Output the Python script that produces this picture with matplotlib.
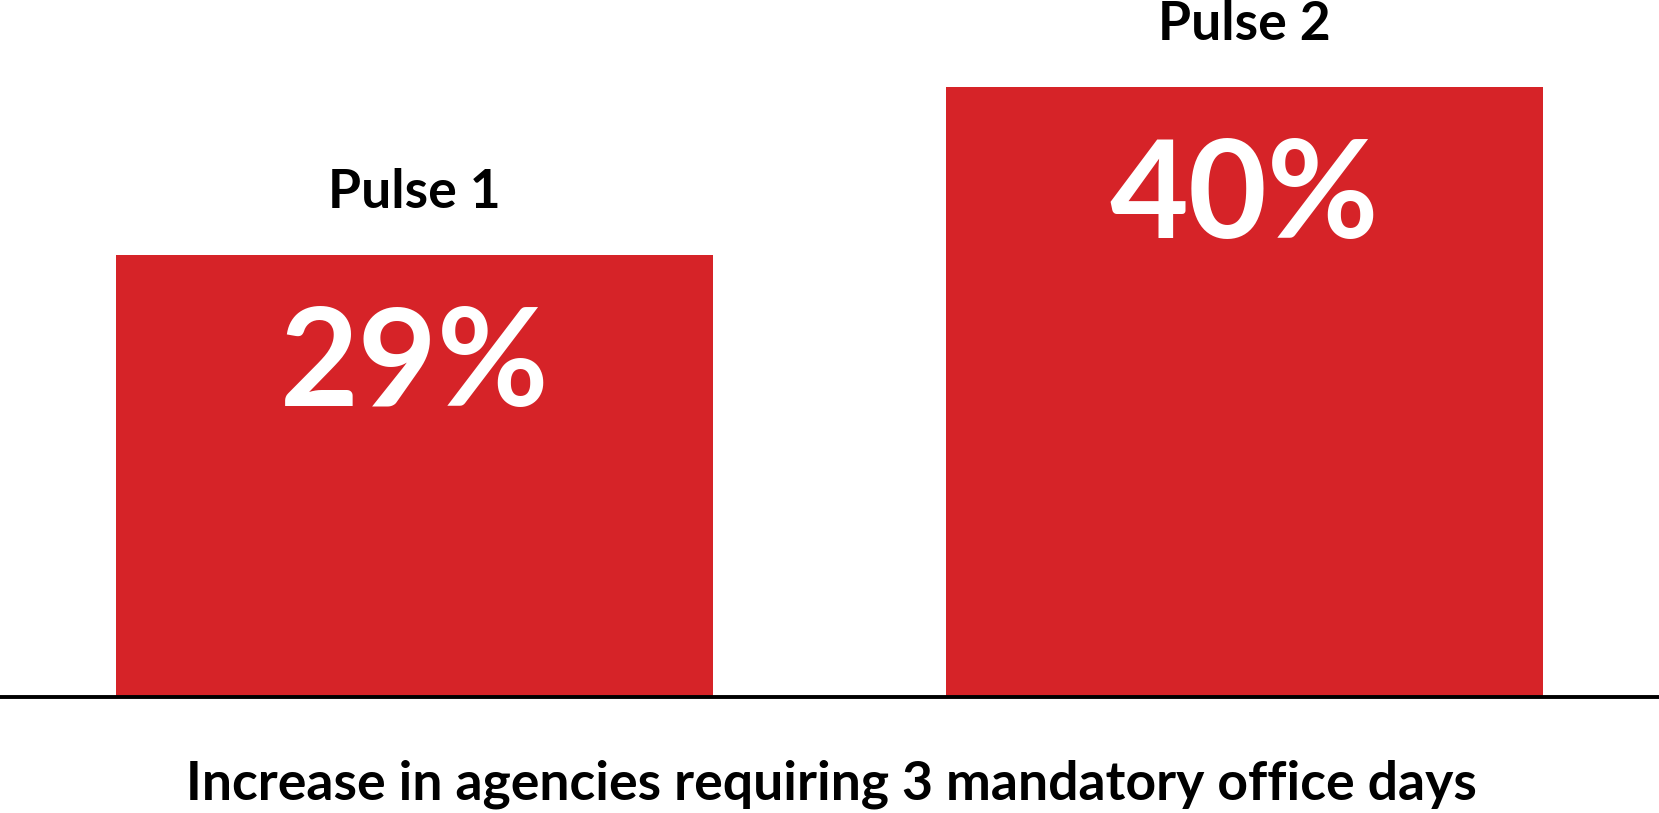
import matplotlib.pyplot as plt

# chart data
labels = ["Pulse 1", "Pulse 2"]
values = [29, 40]
value_text = ["29%", "40%"]
caption = "Increase in agencies requiring 3 mandatory office days"

bar_color = "#D62328"
font = ["Lato", "DejaVu Sans"]

fig = plt.figure(figsize=(16.59, 8.13), dpi=100)
# axes fills the width, baseline sits 116px up from the bottom
ax = fig.add_axes([0, 116 / 813, 1, 697 / 813])

x = list(range(len(values)))
bars = ax.bar(x, values, width=0.72, color=bar_color, zorder=2)

ax.set_xlim(-0.5, 1.5)
ax.set_ylim(0, 697 / 15.25)
ax.axhline(0, color="black", lw=2.8, zorder=3, clip_on=False)

for spine in ax.spines.values():
    spine.set_visible(False)
ax.set_xticks([])
ax.set_yticks([])

# labels above and values inside each bar
for xi, v, lab, txt in zip(x, values, labels, value_text):
    ax.annotate(lab, (xi, v), xytext=(0, 33.5), textcoords="offset points",
                ha="center", va="baseline", fontsize=38.5, fontweight="bold",
                family=font, color="black")
    ax.annotate(txt, (xi, v), xytext=(0, -109), textcoords="offset points",
                ha="center", va="baseline", fontsize=98, fontweight="bold",
                family=font, color="white")

fig.text(0.501, 1 - 799 / 813, caption, ha="center", va="baseline",
         fontsize=38.5, fontweight="bold", family=font, color="black")

fig.savefig("out.png", dpi=100, facecolor="white")
